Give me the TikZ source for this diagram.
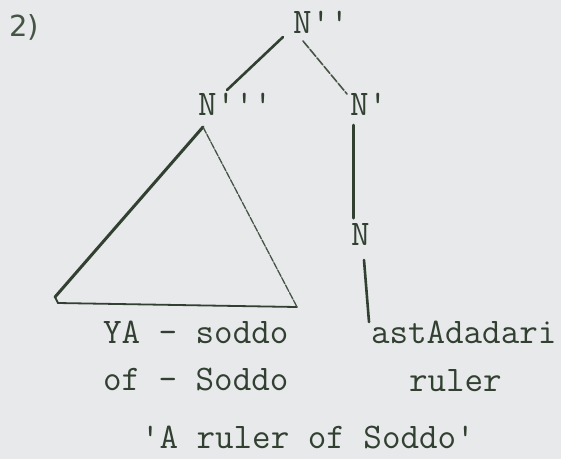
\documentclass[tikz,border=0pt]{standalone}
\usepackage{fontspec}
\setmonofont{Latin Modern Mono}
\newfontfamily\numfont{DejaVu Sans}
\definecolor{bg}{RGB}{232,233,235}
\definecolor{ink}{RGB}{50,64,50}
\definecolor{inklight}{RGB}{70,84,70}
\begin{document}
\begin{tikzpicture}[x=1pt,y=-1pt,
  lbl/.style={anchor=base west, inner sep=0pt, outer sep=0pt, text=ink,
    font=\fontsize{36}{36}\selectfont\ttfamily},
  heavy/.style={draw=ink, line width=2.6pt, line cap=round},
  medium/.style={draw=ink, line width=1.8pt, line cap=round},
  light/.style={draw=inklight, line width=1.3pt, line cap=round, dash pattern=on 7pt off 1.5pt}]
\fill[bg] (0,0) rectangle (561,459);
\useasboundingbox (0,0) rectangle (561,459);

% labels
\node[anchor=base west, inner sep=0pt, text=inklight, font=\fontsize{29}{29}\selectfont\numfont] (num) at (9,36) {2)};
\node[lbl] (top) at (293,33) {N''};
\node[lbl] (left) at (198,115) {N'''};
\node[lbl] (right) at (350,115) {N'};
\node[lbl] (n) at (351,245) {N};
\node[lbl] (ya) at (103,343) {YA - soddo};
\node[lbl] (ast) at (371,343) {astAdadari};
\node[lbl] (of) at (103,390) {of - Soddo};
\node[lbl] (ruler) at (409,391) {ruler};
\node[lbl] (gloss) at (141,448) {'A ruler of Soddo'};

% connector end points
\coordinate (topL) at (283,37);
\coordinate (leftT) at (227,90);
\coordinate (topR) at (303,41);
\coordinate (rightT) at (347,94);
\coordinate (apex) at (203,127);
\coordinate (bl) at (55,297);
\coordinate (blc) at (58,303);
\coordinate (br) at (297,307);
\coordinate (rightB) at (353,125);
\coordinate (nT) at (353,218);
\coordinate (nB) at (364,260);
\coordinate (astT) at (369,322);

\draw[heavy] (topL) -- (leftT);
\draw[light, line width=1.6pt, dash pattern=on 9pt off 2pt] (topR) -- (rightT);
\draw[heavy, line width=3pt] (apex) -- (bl);
\draw[medium] (bl) -- (blc) -- (br);
\draw[light] (apex) -- (br);
\draw[heavy, line width=3pt] (rightB) -- (nT);
\draw[heavy] (nB) -- (astT);
\end{tikzpicture}
\end{document}
